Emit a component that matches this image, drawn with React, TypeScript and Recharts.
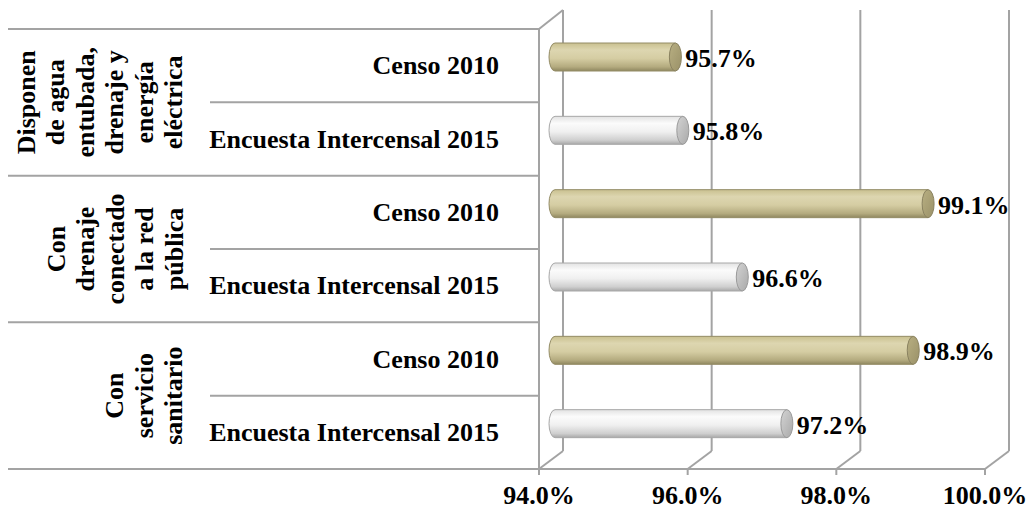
import React from "react";
import { BarChart, Bar, XAxis, YAxis, CartesianGrid } from "recharts";

const groupLabels: string[][] = [
  ["Disponen", "de agua", "entubada,", "drenaje y", "energía", "eléctrica"],
  ["Con", "drenaje", "conectado", "a la red", "pública"],
  ["Con", "servicio", "sanitario"],
];
const seriesLabels = ["Censo 2010", "Encuesta Intercensal 2015"];
const censo2010 = [95.7, 99.1, 98.9];
const encuesta2015 = [95.8, 96.6, 97.2];
const xTicks = [94, 96, 98, 100];

const rows = groupLabels.flatMap((_, g) => [
  { id: `g${g}s0`, group: g, series: 0, label: seriesLabels[0], value: censo2010[g] },
  { id: `g${g}s1`, group: g, series: 1, label: seriesLabels[1], value: encuesta2015[g] },
]);

const W = 1028;
const H = 512;
const M_TOP = 29;
const X_AXIS_H = 43;
const Y_AXIS_W = 539;
const M_RIGHT = 43;
const PLOT_H = H - M_TOP - X_AXIS_H;
const BAND = PLOT_H / rows.length;
const DEPTH_X = 24;
const DEPTH_Y = 18;
const BAR_DX = 10;
const BAR_DY = -9;
const LINE = "#a3a3a3";
const FONT = "'Liberation Serif', 'Times New Roman', serif";
const FS = 26;

const CylinderBar = (props: any) => {
  const { x, y, width, height, payload, index } = props;
  if (width == null || height == null) return null;
  const X = x + BAR_DX;
  const Y = y + BAR_DY;
  const h = height;
  const rx = 6;
  const ry = h / 2;
  const censo = payload.series === 0;
  const gid = `cyl-${index}`;
  const cid = `cap-${index}`;
  const stops = censo
    ? ["#c9c08f", "#ddd6b0", "#d5cda3", "#b4ab7f", "#8f8760"]
    : ["#e2e2e2", "#fbfbfb", "#f0f0f0", "#cfcfcf", "#a8a8a8"];
  const capStops = censo ? ["#b8af82", "#9a9168"] : ["#d3d3d3", "#a9a9a9"];
  const d = `M ${X + rx} ${Y} L ${X + width} ${Y} L ${X + width} ${Y + h} L ${X + rx} ${Y + h} A ${rx} ${ry} 0 0 1 ${X + rx} ${Y} Z`;
  return (
    <g>
      <defs>
        <linearGradient id={gid} x1="0" y1="0" x2="0" y2="1">
          <stop offset="0%" stopColor={stops[0]} />
          <stop offset="25%" stopColor={stops[1]} />
          <stop offset="55%" stopColor={stops[2]} />
          <stop offset="85%" stopColor={stops[3]} />
          <stop offset="100%" stopColor={stops[4]} />
        </linearGradient>
        <linearGradient id={cid} x1="0" y1="0" x2="1" y2="1">
          <stop offset="0%" stopColor={capStops[0]} />
          <stop offset="100%" stopColor={capStops[1]} />
        </linearGradient>
      </defs>
      <path d={d} fill={`url(#${gid})`} stroke={censo ? "#948c66" : "#a8a8a8"} strokeWidth={1} />
      <ellipse cx={X + width} cy={Y + h / 2} rx={rx} ry={ry} fill={`url(#${cid})`} stroke={censo ? "#8a8260" : "#9a9a9a"} strokeWidth={1} />
    </g>
  );
};

const ValueLabel = (props: any) => {
  const { x, y, width, height, value } = props;
  return (
    <text
      x={x + width + BAR_DX + 10}
      y={y + BAR_DY + height / 2 + 10}
      fontFamily={FONT}
      fontWeight="bold"
      fontSize={FS}
      fill="#000"
    >
      {`${Number(value).toFixed(1)}%`}
    </text>
  );
};

const CategoryTick = (props: any) => {
  const { x, y, payload, index } = props;
  const row = rows[index] || rows.find((r) => r.id === payload.value);
  if (!row) return null;
  const axisX = Y_AXIS_W;
  const top = y - BAND / 2;
  const bottom = y + BAND / 2;
  const groupStart = row.series === 0;
  const lines = groupLabels[row.group];
  const lastX = 174;
  const step = 29.5;
  return (
    <g>
      <line x1={groupStart ? 8 : 210} y1={top} x2={axisX} y2={top} stroke={LINE} strokeWidth={2} />
      {index === rows.length - 1 && (
        <line x1={8} y1={bottom} x2={axisX} y2={bottom} stroke={LINE} strokeWidth={2} />
      )}
      <text x={x} y={y} textAnchor="end" dominantBaseline="central" fontFamily={FONT} fontWeight="bold" fontSize={FS} fill="#000">
        {row.label}
      </text>
      {groupStart &&
        lines.map((ln, i) => {
          const cx = lastX - (lines.length - 1 - i) * step;
          const cy = bottom;
          return (
            <text
              key={i}
              x={cx}
              y={cy}
              transform={`rotate(-90 ${cx} ${cy})`}
              textAnchor="middle"
              dominantBaseline="central"
              fontFamily={FONT}
              fontWeight="bold"
              fontSize={FS}
              fill="#000"
            >
              {ln}
            </text>
          );
        })}
    </g>
  );
};

const XTick = (props: any) => {
  const { x, y, payload } = props;
  return (
    <text x={x} y={y + 27} textAnchor="middle" fontFamily={FONT} fontWeight="bold" fontSize={FS} fill="#000">
      {`${Number(payload.value).toFixed(1)}%`}
    </text>
  );
};

const BackWallLine = (props: any) => {
  const { x1, y1, y2, index } = props;
  return (
    <g>
      <line x1={x1 + DEPTH_X} y1={y1 - DEPTH_Y - 1} x2={x1 + DEPTH_X} y2={y2 - DEPTH_Y} stroke={LINE} strokeWidth={2} />
      <line x1={x1} y1={y2} x2={x1 + DEPTH_X} y2={y2 - DEPTH_Y} stroke={LINE} strokeWidth={2} />
      {index === 0 && (
        <line x1={x1} y1={y1} x2={x1 + DEPTH_X} y2={y1 - DEPTH_Y - 1} stroke={LINE} strokeWidth={2} />
      )}
    </g>
  );
};

export default function App() {
  return (
    <div style={{ position: "absolute", left: 0, top: 0, width: W, height: H, background: "#fff" }}>
      <BarChart
        width={W}
        height={H}
        data={rows}
        layout="vertical"
        margin={{ top: M_TOP, right: M_RIGHT, bottom: 0, left: 0 }}
        barCategoryGap={0}
      >
        <CartesianGrid horizontal={false} vertical={BackWallLine} stroke={LINE} />
        <XAxis
          type="number"
          domain={[94, 100]}
          ticks={xTicks}
          allowDataOverflow
          height={X_AXIS_H}
          axisLine={{ stroke: LINE, strokeWidth: 2 }}
          tickLine={{ stroke: LINE, strokeWidth: 2 }}
          tickSize={6}
          tick={XTick}
        />
        <YAxis
          type="category"
          dataKey="id"
          width={Y_AXIS_W}
          axisLine={{ stroke: LINE, strokeWidth: 2 }}
          tickLine={false}
          tickSize={0}
          tickMargin={40}
          tick={CategoryTick}
          interval={0}
        />
        <Bar dataKey="value" barSize={28} shape={CylinderBar} label={ValueLabel} isAnimationActive={false} />
      </BarChart>
    </div>
  );
}
